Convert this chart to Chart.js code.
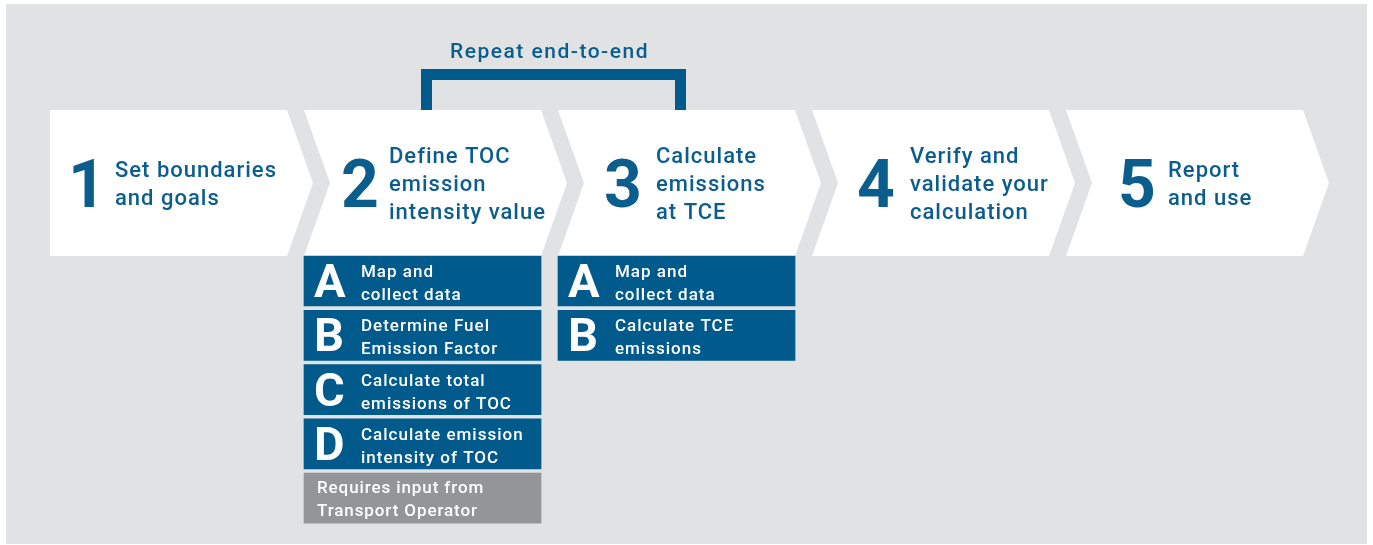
<!DOCTYPE html>
<html>
<head>
<meta charset="utf-8">
<script src="https://cdn.jsdelivr.net/npm/chart.js@4/dist/chart.umd.min.js"></script>
<style>
  html, body { margin: 0; padding: 0; background: #fff; }
  #wrap { width: 1373px; height: 545px; position: relative; }
</style>
</head>
<body>
<div id="wrap"><canvas id="diagrama" width="1373" height="545"></canvas></div>
<script>
// ===== dados do diagrama =====
const stepNumbers = ["1", "2", "3", "4", "5"];
const stepTitles = [
    ["Set boundaries", "and goals"],
    ["Define TOC", "emission", "intensity value"],
    ["Calculate", "emissions", "at TCE"],
    ["Verify and", "validate your", "calculation"],
    ["Report", "and use"]
];
const subLetters = [[], ["A", "B", "C", "D"], ["A", "B"], [], []];
const subTexts = [
    [],
    [["Map and", "collect data"], ["Determine Fuel", "Emission Factor"], ["Calculate total", "emissions of TOC"], ["Calculate emission", "intensity of TOC"]],
    [["Map and", "collect data"], ["Calculate TCE", "emissions"]],
    [],
    []
];
const noteStep = 1;
const noteText = ["Requires input from", "Transport Operator"];
const repeatLabel = "Repeat end-to-end";
const repeatSteps = [1, 2];

// ===== layout (unidades = px do quadro) =====
const L = {
    bgX0: 6, bgX1: 1367, bgY0: 4, bgY1: 544,
    x0: 50, pitch: 254, w: 237, tip: 26,
    top: 110, bot: 256,
    rowTop: 256, rowPitch: 54.3, rowH: 50,
    numOff: [18, 37, 46, 45, 52],
    txtOff: [65, 85, 98, 98, 102]
};
const BLUE = "#005a8c";
const TXT = "#0b5d8e";
const GRAY = "#939598";
const BG = "#e1e2e4";

function stepLeft(i) { return L.x0 + i * L.pitch; }

// caixas A/B/C/D como barras flutuantes
const boxes = [];
const boxColors = [];
subLetters.forEach((letras, s) => {
    letras.forEach((l, r) => {
        const t = L.rowTop + r * L.rowPitch;
        boxes.push({ x: stepLeft(s) + L.w / 2, y: [t, t + L.rowH] });
        boxColors.push(BLUE);
    });
});
{
    const r = subLetters[noteStep].length;
    const t = L.rowTop + r * L.rowPitch;
    boxes.push({ x: stepLeft(noteStep) + L.w / 2, y: [t, t + L.rowH] });
    boxColors.push(GRAY);
}

const FONT = "Roboto, 'DejaVu Sans', sans-serif";

function espaco(ctx, v) {
    if ("letterSpacing" in ctx) ctx.letterSpacing = v + "px";
}

const diagramaPlugin = {
    id: "diagrama",
    beforeDatasetsDraw(chart) {
        const ctx = chart.ctx;
        const x = chart.scales.x, y = chart.scales.y;
        const px = v => x.getPixelForValue(v);
        const py = v => y.getPixelForValue(v);
        ctx.save();
        // fundo cinza
        ctx.fillStyle = BG;
        ctx.fillRect(px(L.bgX0), py(L.bgY0), px(L.bgX1) - px(L.bgX0), py(L.bgY1) - py(L.bgY0));

        // colchete "Repeat"
        const bL = stepLeft(repeatSteps[0]) + 117, bR = stepLeft(repeatSteps[1]) + 128;
        ctx.fillStyle = BLUE;
        ctx.fillRect(px(bL), py(69), px(bR) - px(bL), 11);
        ctx.fillRect(px(bL), py(69), 11, py(L.top) - py(69));
        ctx.fillRect(px(bR) - 11, py(69), 11, py(L.top) - py(69));
        ctx.fillStyle = TXT;
        ctx.font = "500 21px " + FONT;
        espaco(ctx, 1.5);
        ctx.textAlign = "left";
        ctx.textBaseline = "alphabetic";
        ctx.fillText(repeatLabel, px(450), py(58));

        // setas (chevrons)
        const mid = (L.top + L.bot) / 2;
        stepNumbers.forEach((n, i) => {
            const l = stepLeft(i), r = l + L.w;
            ctx.beginPath();
            ctx.moveTo(px(l), py(L.top));
            ctx.lineTo(px(r), py(L.top));
            ctx.lineTo(px(r + L.tip), py(mid));
            ctx.lineTo(px(r), py(L.bot));
            ctx.lineTo(px(l), py(L.bot));
            if (i > 0) ctx.lineTo(px(l + L.tip), py(mid));
            ctx.closePath();
            ctx.fillStyle = "#ffffff";
            ctx.fill();

            ctx.fillStyle = TXT;
            ctx.textAlign = "left";
            ctx.textBaseline = "alphabetic";
            espaco(ctx, 0);
            ctx.font = "bold 66px " + FONT;
            ctx.fillText(n, px(l + L.numOff[i]), py(mid + 24));

            const linhas = stepTitles[i];
            const lh = 28;
            const base0 = mid + 8 - (linhas.length - 1) * lh / 2;
            ctx.font = "500 22px " + FONT;
            espaco(ctx, 1);
            linhas.forEach((t, k) => ctx.fillText(t, px(l + L.txtOff[i]), py(base0 + k * lh)));
        });
        ctx.restore();
    },
    afterDatasetsDraw(chart) {
        const ctx = chart.ctx;
        const x = chart.scales.x, y = chart.scales.y;
        const px = v => x.getPixelForValue(v);
        const py = v => y.getPixelForValue(v);
        ctx.save();
        ctx.fillStyle = "#ffffff";
        ctx.textAlign = "left";
        ctx.textBaseline = "alphabetic";
        subLetters.forEach((letras, s) => {
            const l = stepLeft(s);
            letras.forEach((letra, r) => {
                const t = L.rowTop + r * L.rowPitch;
                espaco(ctx, 0);
                ctx.font = "bold 47px " + FONT;
                ctx.fillText(letra, px(l + 10), py(t + 41));
                espaco(ctx, 1);
                ctx.font = "500 17px " + FONT;
                subTexts[s][r].forEach((linha, k) => ctx.fillText(linha, px(l + 57), py(t + 21 + k * 23)));
            });
        });
        const tn = L.rowTop + subLetters[noteStep].length * L.rowPitch;
        ctx.font = "500 17px " + FONT;
        espaco(ctx, 0.9);
        noteText.forEach((linha, k) => ctx.fillText(linha, px(stepLeft(noteStep) + 13), py(tn + 20 + k * 23)));
        ctx.restore();
    }
};

new Chart(document.getElementById("diagrama"), {
    type: "bar",
    data: {
        datasets: [{
            data: boxes,
            backgroundColor: boxColors,
            borderWidth: 0,
            barThickness: L.w
        }]
    },
    options: {
        responsive: false,
        animation: false,
        events: [],
        layout: { padding: 0 },
        plugins: { legend: { display: false }, tooltip: { enabled: false } },
        scales: {
            x: { type: "linear", min: 0, max: 1373, offset: false, display: false },
            y: { type: "linear", min: 0, max: 545, reverse: true, offset: false, display: false }
        }
    },
    plugins: [diagramaPlugin]
});
</script>
</body>
</html>
